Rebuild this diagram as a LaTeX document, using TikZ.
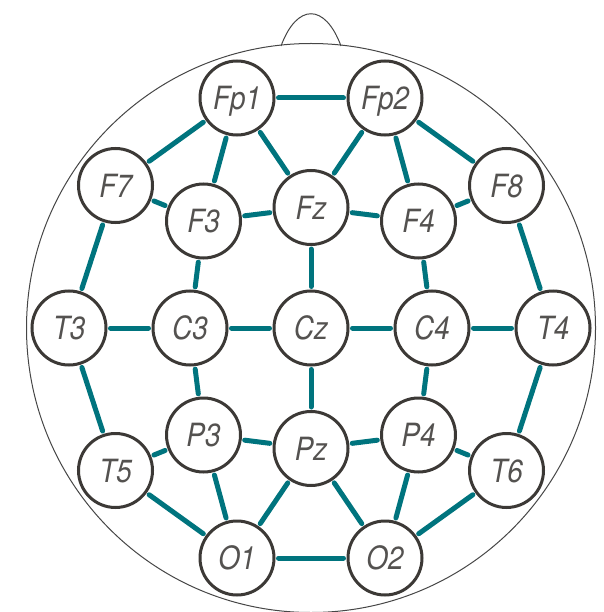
\documentclass[tikz,border=0pt]{standalone}
\usepackage{fontspec}
\setmainfont{TeX Gyre Heros}
\newfontfamily\electrodefont[FakeStretch=0.87]{TeX Gyre Heros}
\definecolor{linkteal}{RGB}{0,116,126}
\definecolor{ringgray}{RGB}{60,57,54}
\definecolor{labelgray}{RGB}{84,82,80}
\definecolor{headgray}{RGB}{70,70,70}
\begin{document}
\begin{tikzpicture}[x=1pt,y=-1pt,
  electrode/.style={circle, draw=ringgray, line width=3pt, fill=white,
    minimum size=74pt, inner sep=0pt, outer sep=4.5pt,
    font=\electrodefont\itshape\fontsize{32}{32}\selectfont,
    text=labelgray, text height=23pt, text depth=0pt},
  link/.style={draw=linkteal, line width=5pt, line cap=round},
  outline/.style={draw=headgray, line width=1pt}]
\useasboundingbox (0,0) rectangle (603,612);

% head outline and nose
\draw[outline] (311,328) circle[radius=284.5];
\draw[outline] (281,46) .. controls (297,3) and (325,3) .. (341,46);

% electrodes
\node[electrode] (Fp1) at (237,98) {Fp1};
\node[electrode] (Fp2) at (385,98) {Fp2};
\node[electrode] (F7) at (115.5,185.5) {F7};
\node[electrode] (F8) at (506.5,185.5) {F8};
\node[electrode] (F3) at (203.5,221) {F3};
\node[electrode] (Fz) at (311,207.5) {Fz};
\node[electrode] (F4) at (418.5,221) {F4};
\node[electrode] (T3) at (69,328) {T3};
\node[electrode] (C3) at (190,328) {C3};
\node[electrode] (Cz) at (311,328) {Cz};
\node[electrode] (C4) at (432,328) {C4};
\node[electrode] (T4) at (553,328) {T4};
\node[electrode] (P3) at (203.5,435) {P3};
\node[electrode] (Pz) at (311,448.5) {Pz};
\node[electrode] (P4) at (418.5,435) {P4};
\node[electrode] (T5) at (115.5,470.5) {T5};
\node[electrode] (T6) at (506.5,470.5) {T6};
\node[electrode] (O1) at (237,558) {O1};
\node[electrode] (O2) at (385,558) {O2};

% connections between neighbouring electrodes
\foreach \a/\b in {Fp1/Fp2, Fp1/F7, Fp1/F3, Fp1/Fz, Fp2/Fz, Fp2/F4, Fp2/F8,
    F7/F3, F3/Fz, Fz/F4, F4/F8,
    F7/T3, F3/C3, Fz/Cz, F4/C4, F8/T4,
    T3/C3, C3/Cz, Cz/C4, C4/T4,
    T3/T5, C3/P3, Cz/Pz, C4/P4, T4/T6,
    T5/P3, P3/Pz, Pz/P4, P4/T6,
    T5/O1, P3/O1, Pz/O1, Pz/O2, P4/O2, T6/O2, O1/O2}
  \draw[link] (\a) -- (\b);
\end{tikzpicture}
\end{document}
